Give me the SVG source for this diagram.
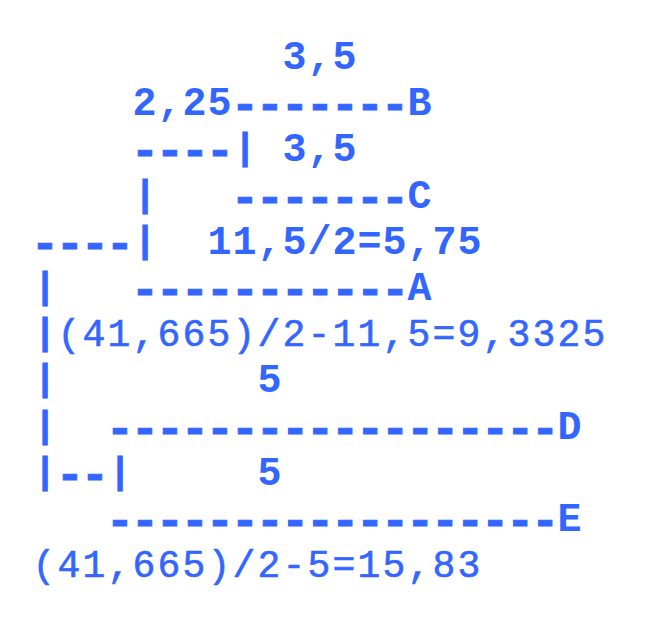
<svg xmlns="http://www.w3.org/2000/svg" width="652" height="632" viewBox="0 0 652 632">
<style>
text{fill:#3366ff;font-family:"Liberation Mono","DejaVu Sans Mono",monospace;white-space:pre}
.b{font-weight:bold;font-size:40px;letter-spacing:1px}
.r{font-weight:normal;font-size:38px;letter-spacing:2.2px;stroke:#3366ff;stroke-width:0.6px}
.d{font-weight:bold;font-size:48px;letter-spacing:-3.8px;stroke:#3366ff;stroke-width:0.8px}
.p{font-weight:bold;font-size:36px;stroke:#3366ff;stroke-width:0.8px}
</style>
<rect width="652" height="632" fill="#ffffff"/>
<g id="connectors">
<text class="d" x="230.6" y="120.1">-------</text>
<text class="d" x="130.6" y="166.3">----</text>
<text class="p" x="234.2" y="159.4">|</text>
<text class="p" x="134.2" y="205.6">|</text>
<text class="d" x="230.6" y="212.5">-------</text>
<text class="d" x="30.6" y="258.7">----</text>
<text class="p" x="134.2" y="251.8">|</text>
<text class="p" x="34.2" y="298">|</text>
<text class="d" x="130.6" y="304.9">-----------</text>
<text class="p" x="34.2" y="344.2">|</text>
<text class="p" x="34.2" y="390.4">|</text>
<text class="p" x="34.2" y="436.6">|</text>
<text class="d" x="105.6" y="443.5">------------------</text>
<text class="p" x="34.2" y="482.8">|</text>
<text class="d" x="55.6" y="489.7">--</text>
<text class="p" x="109.2" y="482.8">|</text>
<text class="d" x="105.6" y="535.9">------------------</text>
</g>
<g id="node-B"><text class="b" x="407.5" y="115.2">B</text></g>
<g id="node-C"><text class="b" x="407.5" y="207.6">C</text></g>
<g id="node-A"><text class="b" x="407.5" y="300">A</text></g>
<g id="node-D"><text class="b" x="557.5" y="438.6">D</text></g>
<g id="node-E"><text class="b" x="557.5" y="531">E</text></g>
<g id="label-B"><text class="b" x="282.5" y="69">3,5</text></g>
<g id="label-BC"><text class="b" x="132.5" y="115.2">2,25</text></g>
<g id="label-C"><text class="b" x="282.5" y="161.4">3,5</text></g>
<g id="label-A"><text class="b" x="207.5" y="253.8">11,5/2=5,75</text></g>
<g id="label-ABC"><text class="r" x="57.5" y="346.2">(41,665)/2-11,5=9,3325</text></g>
<g id="label-D"><text class="b" x="257.5" y="392.4">5</text></g>
<g id="label-E"><text class="b" x="257.5" y="484.8">5</text></g>
<g id="label-DE"><text class="r" x="32.5" y="577.2">(41,665)/2-5=15,83</text></g>
</svg>
